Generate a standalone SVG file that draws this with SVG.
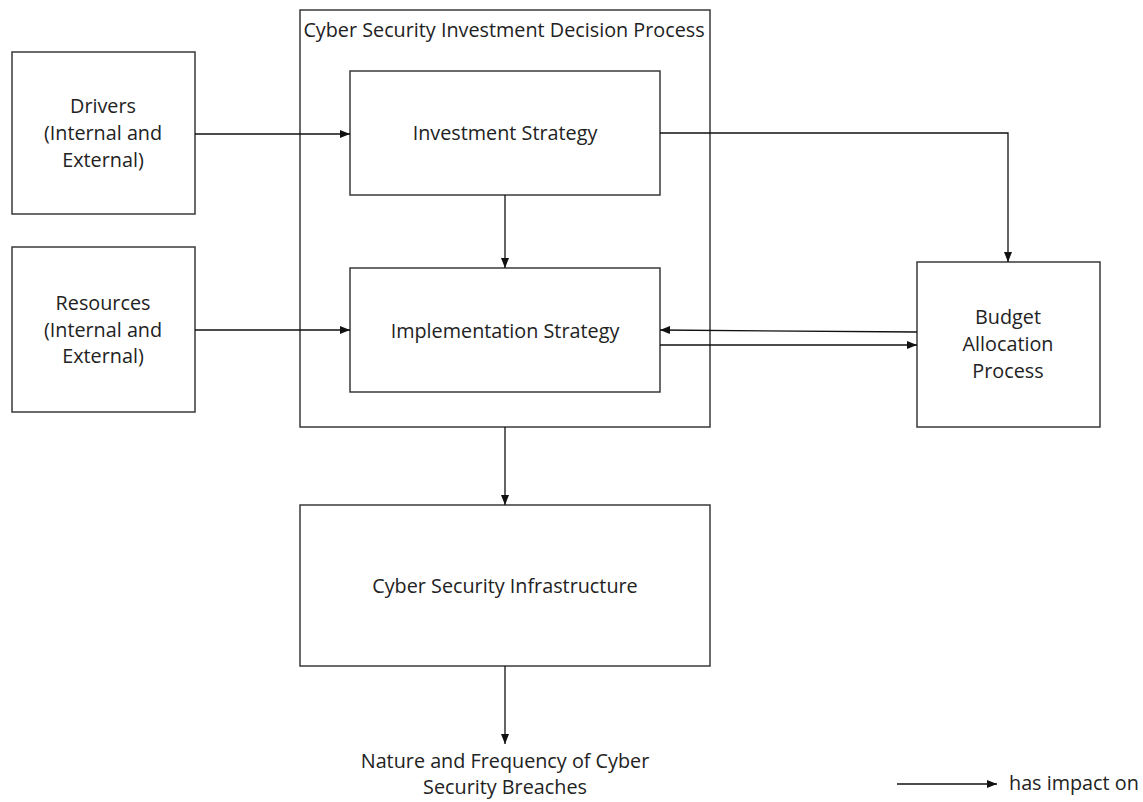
<svg xmlns="http://www.w3.org/2000/svg" width="1143" height="802" viewBox="0 0 1143 802">
<style>
.box{fill:#fff;stroke:#3a3a3a;stroke-width:1.5}
.cont{fill:none;stroke:#3a3a3a;stroke-width:1.5}
.t{font-family:"Open Sans","Liberation Sans",sans-serif;font-size:19.8px;fill:#222;text-anchor:middle}
.c{fill:none;stroke:#111;stroke-width:1.3;marker-end:url(#ah)}
</style>
<defs>
<marker id="ah" viewBox="0 0 10 10" refX="10" refY="5" markerWidth="10" markerHeight="10" markerUnits="userSpaceOnUse" orient="auto">
<path d="M0,1 L10,5 L0,9 z" fill="#111"/>
</marker>
</defs>
<rect width="1143" height="802" fill="#fff"/>
<g id="process">
<rect class="cont" x="300" y="10" width="410" height="417"/>
<text class="t" x="504" y="37">Cyber Security Investment Decision Process</text>
</g>
<g id="drivers">
<rect class="box" x="12" y="52" width="183" height="162"/>
<text class="t" x="103" y="113">Drivers</text>
<text class="t" x="103" y="140">(Internal and</text>
<text class="t" x="103" y="167">External)</text>
</g>
<g id="resources">
<rect class="box" x="12" y="247" width="183" height="165"/>
<text class="t" x="103" y="310">Resources</text>
<text class="t" x="103" y="337">(Internal and</text>
<text class="t" x="103" y="363">External)</text>
</g>
<g id="investment">
<rect class="box" x="350" y="71" width="310" height="124"/>
<text class="t" x="505" y="140">Investment Strategy</text>
</g>
<g id="implementation">
<rect class="box" x="350" y="268" width="310" height="124"/>
<text class="t" x="505" y="338">Implementation Strategy</text>
</g>
<g id="budget">
<rect class="box" x="917" y="262" width="183" height="165"/>
<text class="t" x="1008" y="324">Budget</text>
<text class="t" x="1008" y="351">Allocation</text>
<text class="t" x="1008" y="378">Process</text>
</g>
<g id="infrastructure">
<rect class="box" x="300" y="505" width="410" height="161"/>
<text class="t" x="505" y="593">Cyber Security Infrastructure</text>
</g>
<g id="breaches">
<text class="t" x="505" y="768">Nature and Frequency of Cyber</text>
<text class="t" x="505" y="794">Security Breaches</text>
</g>
<g id="legend">
<line class="c" x1="897" y1="784" x2="997" y2="784"/>
<text class="t" x="1009" y="790" style="text-anchor:start">has impact on</text>
</g>
<g id="connectors">
<line class="c" x1="195" y1="134" x2="350" y2="134"/>
<line class="c" x1="195" y1="330" x2="350" y2="330"/>
<line class="c" x1="505" y1="195" x2="505" y2="268"/>
<polyline class="c" points="660,133 1008,133 1008,262"/>
<line class="c" x1="917" y1="332" x2="660" y2="330"/>
<line class="c" x1="660" y1="345" x2="917" y2="345"/>
<line class="c" x1="505" y1="427" x2="505" y2="505"/>
<line class="c" x1="505" y1="666" x2="505" y2="744"/>
</g>
</svg>
